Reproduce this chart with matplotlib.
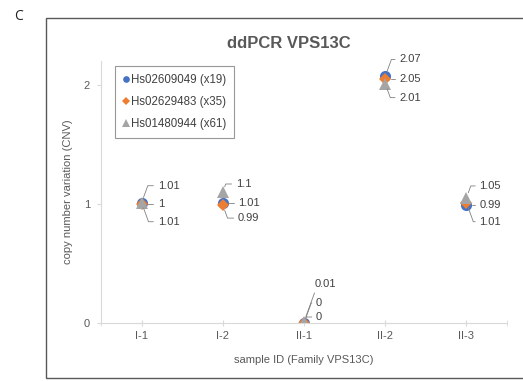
import numpy as np
import matplotlib
matplotlib.use("Agg")
import matplotlib.pyplot as plt
from matplotlib.patches import Rectangle

plt.rcParams['font.family'] = ['Liberation Sans', 'DejaVu Sans']

# data
samples = ["I-1", "I-2", "II-1", "II-2", "II-3"]
hs02609049 = [1.01, 1.01, 0.0, 2.07, 0.99]   # blue circles
hs02629483 = [1.00, 0.99, 0.0, 2.05, 1.01]   # orange diamonds
hs01480944 = [1.01, 1.10, 0.01, 2.01, 1.05]  # grey triangles
series_names = ["Hs02609049 (x19)", "Hs02629483 (x35)", "Hs01480944 (x61)"]

# label offsets in pixels (dx, dy) per series, per sample
label_offsets = [
    [(16, 17), (15, 0), (12, 20), (14, 17), (13, 0)],
    [(16, 0), (15, -13), (12, 6), (14, 0), (13, -19)],
    [(16, -19), (13, 8), (11, 38), (14, -14), (13, 12)],
]

colors = ["#4472C4", "#ED7D31", "#A5A5A5"]
markers = ["o", "D", "^"]
msizes = [8, 6.5, 9]
text_col = "#404040"
axis_col = "#d9d9d9"

fig = plt.figure(figsize=(5.23, 3.81), dpi=100)
W, H = 523, 381

# outer frame
fig.patches.append(Rectangle((46 / W, 1 - 378 / H), 1.0, (378 - 18) / H,
                             transform=fig.transFigure, fill=False,
                             edgecolor="#595959", lw=1.0))
fig.text(14 / W, 1 - 17 / H, "C", fontsize=10, color="#222222",
         ha="left", va="center", family=["Open Sans", "DejaVu Sans"])

ax = fig.add_axes([101 / W, 1 - 323 / H, (507 - 101) / W, (323 - 61) / H])
x = np.arange(1, len(samples) + 1)

all_series = [hs02609049, hs02629483, hs01480944]
for vals, c, m, ms, name in zip(all_series, colors, markers, msizes, series_names):
    ax.plot(x, vals, linestyle="none", marker=m, color=c, markersize=ms,
            markeredgewidth=0, label=name)

for s, vals in enumerate(all_series):
    for i, v in enumerate(vals):
        dx, dy = label_offsets[s][i]
        angB = 70 if dy >= 0 else -70
        ax.annotate(f"{v:g}", xy=(x[i], v), xytext=(dx, dy),
                    textcoords="offset pixels", ha="left", va="center",
                    fontsize=8, color=text_col,
                    arrowprops=dict(arrowstyle="-", color="#808080", lw=0.6,
                                    shrinkA=1, shrinkB=4,
                                    connectionstyle=f"angle,angleA=0,angleB={angB},rad=0"))

ax.set_xlim(0.5, 5.5)
ax.set_ylim(0, 2.2)
ax.set_xticks(x)
ax.set_xticklabels(samples)
ax.set_xticks([0.5, 5.5], minor=True)
ax.set_yticks([0, 1, 2])
ax.tick_params(axis="x", which="both", direction="inout", length=5,
               color=axis_col, labelsize=8, labelcolor="#595959", pad=3)
ax.tick_params(axis="y", direction="out", length=3, color=axis_col,
               labelsize=8, labelcolor="#595959", pad=5)
for side in ["top", "right"]:
    ax.spines[side].set_visible(False)
for side in ["left", "bottom"]:
    ax.spines[side].set_color(axis_col)
    ax.spines[side].set_linewidth(0.8)

ax.set_xlabel("sample ID (Family VPS13C)", fontsize=8, color="#595959", labelpad=10)
ax.set_ylabel("copy number variation (CNV)", fontsize=8, color="#595959")
ax.yaxis.set_label_coords(-0.07, 0.5)

fig.text(289 / W, 1 - 43 / H, "ddPCR VPS13C", fontsize=12, fontweight="bold",
         color="#595959", ha="center", va="center")

leg = ax.legend(loc="upper left", bbox_to_anchor=(115 / W, 1 - 66 / H),
                bbox_transform=fig.transFigure, fontsize=8.3, frameon=True,
                fancybox=False, edgecolor="#7f7f7f", markerscale=0.6,
                handlelength=0.5, handletextpad=0.2, labelspacing=0.85,
                borderpad=0.7, borderaxespad=0)
leg.get_frame().set_linewidth(0.8)
for t in leg.get_texts():
    t.set_color(text_col)

fig.savefig("out.png", dpi=100)
